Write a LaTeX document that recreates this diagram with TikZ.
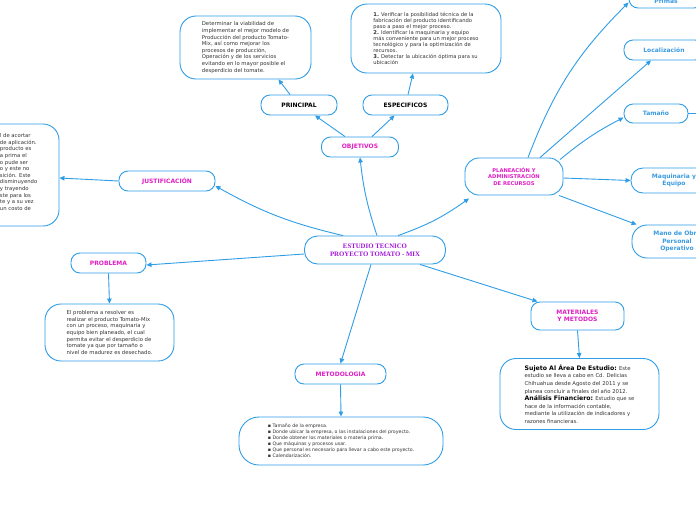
\documentclass[tikz,border=0pt]{standalone}
\usepackage{fontspec}
\setmainfont{DejaVu Sans}
\newfontfamily\titlefont{Liberation Serif}
\usetikzlibrary{arrows.meta, positioning}
\definecolor{cline}{HTML}{2E9DE6}
\definecolor{cmag}{HTML}{E01EC4}
\definecolor{cviolet}{HTML}{A012D8}
\definecolor{clabel}{HTML}{3A9BE0}
\definecolor{ctext}{HTML}{333333}
\tikzset{
  every picture/.style={line width=0.9pt},
  topic/.style={draw=cline, fill=white, rounded corners=9pt, minimum height=20pt, inner sep=1pt, align=center,
    font=\fontsize{6}{7.5}\selectfont\bfseries, text=#1},
  topic/.default=cmag,
  maintopic/.style={draw=cline, fill=white, rounded corners=13pt, minimum width=141pt, minimum height=28pt, align=center,
    font=\titlefont\fontsize{6.8}{8}\selectfont\bfseries, text=cviolet},
  leaf/.style={draw=cline, fill=white, rounded corners=16pt, align=left, inner sep=0pt,
    font=\fontsize{5.3}{6.6}\selectfont, text=ctext},
  arrow/.style={-{Triangle[length=5pt, width=4.5pt]}, draw=cline, line width=0.9pt},
}
\begin{document}
\begin{tikzpicture}[x=1pt, y=-1pt]
  \useasboundingbox (0,0) rectangle (696,520);
  \clip (0,0) rectangle (696,520);
  % central topic
  \node[maintopic] (main) at (375,250) {ESTUDIO TECNICO\\PROYECTO TOMATO - MIX};
  % objetivos branch
  \node[topic, minimum width=77pt] (obj) at (360,147) {OBJETIVOS};
  \node[topic=black, minimum width=76pt] (princ) at (299,105) {PRINCIPAL};
  \node[topic=black, minimum width=85pt] (espec) at (405.5,105) {ESPECIFICOS};
  \node[leaf, minimum width=131pt, minimum height=63pt] (princtxt) at (245.5,47.5) {Determinar la viabilidad de\\implementar el mejor modelo de\\Producción del producto Tomato-\\Mix, así como mejorar los\\procesos de producción,\\Operación y de los servicios\\evitando en lo mayor posible el\\desperdicio del tomate.};
  \node[leaf, minimum width=150pt, minimum height=69pt, font=\fontsize{5.2}{5.9}\selectfont] (espectxt) at (426,38.5) {\textbf{1.} Verificar la posibilidad técnica de la\\fabricación del producto identificando\\paso a paso el mejor proceso.\\\textbf{2.} Identificar la maquinaria y equipo\\más conveniente para un mejor proceso\\tecnológico y para la optimización de\\recursos.\\\textbf{3.} Detectar la ubicación óptima para su\\ubicación};
  % justificacion and problema
  \node[topic, minimum width=96pt] (just) at (167,181) {JUSTIFICACIÓN};
  \node[leaf, minimum width=138pt, minimum height=102pt] (justtxt) at (-10,175) {\hspace*{76pt}\parbox{56pt}{\raggedright l de acortar\\de aplicación.\\producto es\\a prima el\\o pude ser\\o y este no\\sición. Este\\disminuyendo\\y trayendo\\ste para los\\te y a su vez\\un costo de\\[6pt]}};
  \node[topic, minimum width=75pt] (prob) at (108.5,263) {PROBLEMA};
  \node[leaf, minimum width=129pt, minimum height=57pt] (probtxt) at (109.5,332.5) {El problema a resolver es\\realizar el producto Tomato-Mix\\con un proceso, maquinaria y\\equipo bien planeado, el cual\\permita evitar el desperdicio de\\tomate ya que por tamaño o\\nivel de madurez es desechado.};
  % metodologia
  \node[topic, minimum width=91pt] (met) at (340.5,374) {METODOLOGIA};
  \node[leaf, minimum width=204pt, minimum height=48pt, rounded corners=20pt, font=\fontsize{4.7}{6}\selectfont] (mettxt) at (341,441) {▪ Tamaño de la empresa.\\▪ Donde ubicar la empresa, o las instalaciones del proyecto.\\▪ Donde obtener los materiales o materia prima.\\▪ Que máquinas y procesos usar.\\▪ Que personal es necesario para llevar a cabo este proyecto.\\▪ Calendarización.};
  % materiales y metodos
  \node[topic, minimum width=93pt, minimum height=28pt] (mat) at (577.5,316) {MATERIALES\\Y METODOS};
  \node[leaf, minimum width=159pt, minimum height=71pt, font=\fontsize{5.3}{7.6}\selectfont] (mattxt) at (579.5,394) {{\color{black}\fontsize{6.2}{7.6}\selectfont\bfseries Sujeto Al Área De Estudio:} Este\\estudio se lleva a cabo en Cd. Delicias\\Chihuahua desde Agosto del 2011 y se\\planea concluir a finales del año 2012.\\{\color{black}\fontsize{6.2}{7.6}\selectfont\bfseries Análisis Financiero:} Estudio que se\\hace de la información contable,\\mediante la utilización de indicadores y\\razones financieras.};
  % planeacion branch
  \node[topic, minimum width=98pt, minimum height=37pt, rounded corners=14pt, font=\fontsize{5.2}{6.4}\selectfont\bfseries] (plan) at (514,176.5) {PLANEACIÓN Y\\ADMINISTRACIÓN\\DE RECURSOS};
  \node[topic=clabel, minimum width=74pt, minimum height=25pt, font=\fontsize{6}{9}\selectfont\bfseries] (primas) at (666,-4.5) {\strut\\Primas};
  \node[topic=clabel, minimum width=80pt] (loc) at (664,50) {Localización};
  \node[topic=clabel, minimum width=64pt, minimum height=19pt] (tam) at (656,113.5) {Tamaño};
  \coordinate (tamout) at (700,113.5);
  \node[topic=clabel, minimum width=86pt, minimum height=25pt, rounded corners=12pt] (maq) at (674,180.5) {Maquinaria y\\Equipo};
  \node[topic=clabel, minimum width=90pt, minimum height=33pt, rounded corners=15pt] (mano) at (677,241.5) {Mano de Obra\\Personal\\Operativo};
  % connectors
  \draw[arrow] ([xshift=2pt]main.north) to[bend left=6] (obj.south);
  \draw[arrow] ([xshift=-15pt]obj.north) -- ([xshift=16pt]princ.south);
  \draw[arrow] ([xshift=12pt]obj.north) -- ([xshift=-11pt]espec.south);
  \draw[arrow] ([xshift=-9pt]princ.north) -- ([xshift=33pt]princtxt.south);
  \draw[arrow] ([xshift=2.5pt]espec.north) -- ([xshift=-13pt]espectxt.south);
  \draw[arrow] ([xshift=-32pt]main.north) to[bend left=8] ([yshift=-5pt]just.east);
  \draw[arrow] (just.west) -- ([yshift=-3pt]justtxt.east);
  \draw[arrow] ([yshift=-4pt]main.west) -- ([yshift=-2pt]prob.east);
  \draw[arrow] (prob.south) -- (probtxt.north);
  \draw[arrow] ([xshift=-4pt]main.south) -- (met.north);
  \draw[arrow] (met.south) -- (mettxt.north);
  \draw[arrow] ([xshift=45pt]main.south) -- ([xshift=-40pt]mat.north);
  \draw[arrow] (mat.south) -- (mattxt.north);
  \draw[arrow] ([xshift=23pt]main.north) to[bend right=8] ([xshift=-45pt,yshift=-3pt]plan.south);
  \draw[arrow] ([xshift=14pt]plan.north) to[bend left=12] ([yshift=-7pt]primas.west);
  \draw[arrow] ([xshift=26pt]plan.north) -- ([xshift=-13pt]loc.south);
  \draw[arrow] ([xshift=46pt,yshift=-2pt]plan.north) to[bend left=6] ([yshift=-4pt]tam.west);
  \draw[arrow] ([yshift=-1.5pt]plan.east) -- (maq.west);
  \draw[arrow] ([xshift=45pt]plan.south) -- ([xshift=5pt]mano.north west);
  \draw[cline] (tam.east) -- (tamout);
\end{tikzpicture}
\end{document}
